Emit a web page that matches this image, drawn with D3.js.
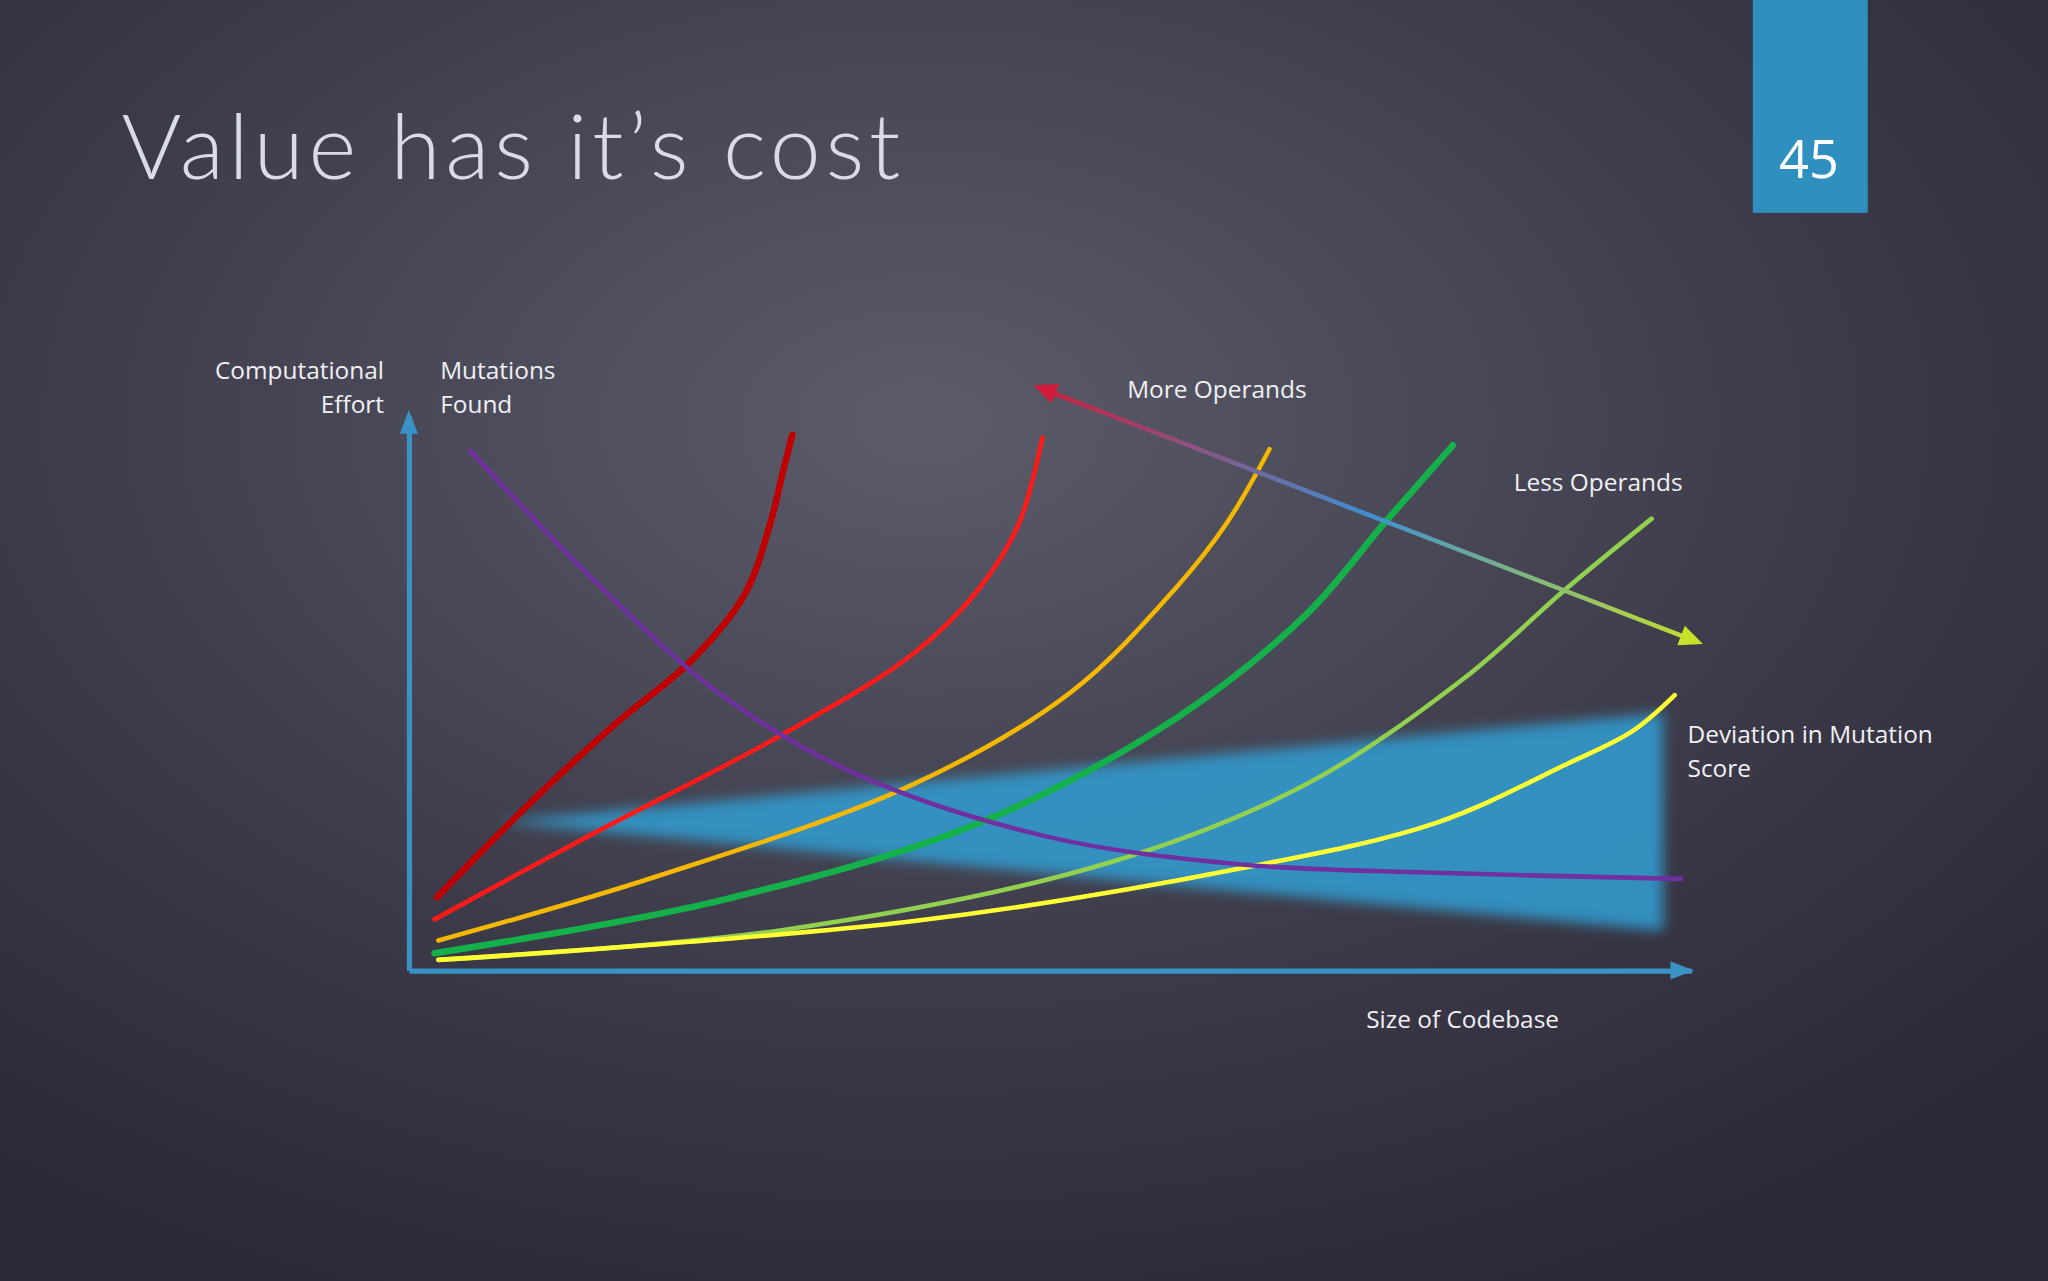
<!DOCTYPE html><html><head><meta charset="utf-8">
<script src="https://cdn.jsdelivr.net/npm/d3@7"></script>
<style>html,body{margin:0;padding:0;background:#2e2c3a;overflow:hidden}</style></head><body>
<script>
const title = "Value has it’s cost";
const pageNum = "45";
const seriesNames = ["darkred","red","orange","green","lightgreen","yellow","purple"];
const seriesColors = ["#c00000","#ff1a1a","#f5b800","#14b04a","#92d050","#ffff33","#7030a0"];
const seriesWidths = [5,3.5,3.5,5,3.5,3.5,3.5];
const darkredX=[2.2,8.9,16.0,22.1,26.2,28.2,29.2,29.9], darkredY=[13.2,28.9,44.2,56.0,67.8,80.7,90.1,96.5];
const redX=[2.0,14.0,29.2,39.4,44.5,47.6,49.4], redY=[9.2,24.2,42.6,57.2,68.9,80.7,96.0];
const orangeX=[2.3,19.0,39.4,51.6,59.8,63.8,67.1], orangeY=[5.4,16.7,33.6,50.1,68.9,80.7,93.9];
const greenX=[2.0,24.1,44.5,59.8,70.0,76.1,81.4], greenY=[3.1,12.5,26.6,45.4,64.2,80.7,94.6];
const lightgreenX=[2.3,29.2,54.7,70.0,82.2,90.3,96.9], lightgreenY=[1.9,7.3,19.5,33.6,52.5,68.9,81.4];
const yellowX=[2.3,39.4,64.9,80.1,90.3,95.4,98.7], yellowY=[1.9,8.9,18.4,26.6,37.2,43.1,49.6];
const purpleX=[4.8,14.0,24.1,34.3,49.6,64.9,80.1,99.2], purpleY=[93.6,71.3,50.1,36.0,24.2,19.1,17.6,16.5];
const wedgeX=[6.9,97.8,97.8], wedgeY=[26.8,46.4,7.1];
const arrowX=[48.7,100.9], arrowY=[105.4,58.8];
const xs=[darkredX,redX,orangeX,greenX,lightgreenX,yellowX,purpleX], ys=[darkredY,redY,orangeY,greenY,lightgreenY,yellowY,purpleY];

const s=2048/1568;
const svg=d3.select("body").append("svg").attr("width",2048).attr("height",1281);
const defs=svg.append("defs");
const bg=defs.append("radialGradient").attr("id","bg").attr("cx","0.45").attr("cy","0.33").attr("r","0.75");
bg.append("stop").attr("offset","0").attr("stop-color","#5b5b69");
bg.append("stop").attr("offset","0.6").attr("stop-color","#3c3a48");
bg.append("stop").attr("offset","1").attr("stop-color","#2a2835");
svg.append("rect").attr("width",2048).attr("height",1281).attr("fill","url(#bg)");
defs.append("filter").attr("id","blur").attr("x","-0.2").attr("y","-0.5").attr("width","1.4").attr("height","2")
  .append("feGaussianBlur").attr("stdDeviation",5);
const g=svg.append("g").attr("transform",`scale(${s})`);

const x=d3.scaleLinear().domain([0,100]).range([313,1295]);
const y=d3.scaleLinear().domain([0,100]).range([743,318]);

g.append("text").attr("x",93).attr("y",137).text(title).attr("fill","#d9dce6")
 .attr("font-family","Lato").attr("font-weight",300).attr("font-size",70).attr("letter-spacing",3.6);
g.append("rect").attr("x",1342).attr("y",0).attr("width",88).attr("height",163).attr("fill","#2f8fbf");
g.append("text").attr("x",1385).attr("y",136).attr("text-anchor","middle").text(pageNum).attr("fill","#fff")
 .attr("font-family","Open Sans").attr("font-size",40);

g.append("path").attr("d",d3.line()(wedgeX.map((v,i)=>[x(v),y(wedgeY[i])]))+"Z")
 .attr("fill","#3399cc").attr("opacity",0.9).attr("filter","url(#blur)");

const ax=g.append("g").attr("transform",`translate(0,${y(0)})`).call(d3.axisBottom(x).tickValues([]).tickSizeOuter(0));
const ay=g.append("g").attr("transform",`translate(${x(0)},0)`).call(d3.axisLeft(y).tickValues([]).tickSizeOuter(0));
[ax,ay].forEach(a=>a.select(".domain").attr("stroke","#3a92c4").attr("stroke-width",4));
g.append("path").attr("d",`M${x(100)-16},${y(0)-7}L${x(100)+2},${y(0)}L${x(100)-16},${y(0)+7}Z`).attr("fill","#3a92c4");
g.append("path").attr("d",`M${x(0)-7},${y(100)+14}L${x(0)},${y(100)-4}L${x(0)+7},${y(100)+14}Z`).attr("fill","#3a92c4");

const line=d3.line().x(d=>x(d[0])).y(d=>y(d[1])).curve(d3.curveCatmullRom.alpha(0.5));
seriesNames.forEach((n,i)=>{
  g.append("path").attr("d",line(xs[i].map((v,j)=>[v,ys[i][j]]))).attr("fill","none")
   .attr("stroke",seriesColors[i]).attr("stroke-width",seriesWidths[i]).attr("stroke-linecap","round");
});

const ag=defs.append("linearGradient").attr("id","ag").attr("gradientUnits","userSpaceOnUse")
 .attr("x1",x(arrowX[0])).attr("y1",y(arrowY[0])).attr("x2",x(arrowX[1])).attr("y2",y(arrowY[1]));
[["0","#d01c3a"],["0.5","#3f8fd0"],["1","#c8e02a"]].forEach(d=>ag.append("stop").attr("offset",d[0]).attr("stop-color",d[1]));
const ax1=x(arrowX[0]),ay1=y(arrowY[0]),ax2=x(arrowX[1]),ay2=y(arrowY[1]);
const ang=Math.atan2(ay2-ay1,ax2-ax1),L=18,W=8;
function head(px,py,a,c){const bx=px-L*Math.cos(a),by=py-L*Math.sin(a);
 g.append("path").attr("d",`M${px},${py}L${bx+W*Math.sin(a)},${by-W*Math.cos(a)}L${bx-W*Math.sin(a)},${by+W*Math.cos(a)}Z`).attr("fill",c);}
g.append("line").attr("x1",ax1+12*Math.cos(ang)).attr("y1",ay1+12*Math.sin(ang)).attr("x2",ax2-12*Math.cos(ang)).attr("y2",ay2-12*Math.sin(ang))
 .attr("stroke","url(#ag)").attr("stroke-width",3.5);
head(ax1,ay1,ang+Math.PI,"#d01c3a"); head(ax2,ay2,ang,"#c8e02a");

const labels=[["Computational",294,290,"end"],["Effort",294,316,"end"],["Mutations",337,290,"start"],["Found",337,316,"start"],
 ["More Operands",863,305,"start"],["Less Operands",1159,376,"start"],["Deviation in Mutation",1292,569,"start"],["Score",1292,595,"start"],
 ["Size of Codebase",1046,787,"start"]];
labels.forEach(l=>g.append("text").attr("x",l[1]).attr("y",l[2]).attr("text-anchor",l[3]).text(l[0])
 .attr("fill","#f0f0f4").attr("font-family","Open Sans").attr("font-size",18.7));
</script></body></html>
